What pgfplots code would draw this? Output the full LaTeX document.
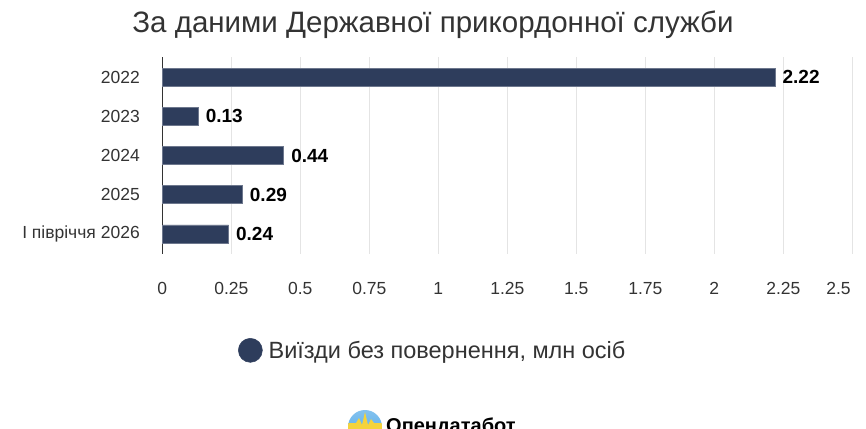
\documentclass[border=0pt]{standalone}
\usepackage{fontspec}
\setmainfont{Liberation Sans}
\usepackage{pgfplots}
\pgfplotsset{compat=1.18}
\definecolor{barcol}{HTML}{2E3D5C}
\definecolor{txt}{HTML}{333333}
\definecolor{gridc}{HTML}{E4E4E4}
\definecolor{logob}{HTML}{4FA8E8}
\definecolor{logoy}{HTML}{F5D33A}
\begin{document}
\begin{tikzpicture}[x=1pt,y=1pt]
\useasboundingbox (0,0) rectangle (866,428);
\node[anchor=base, font=\fontsize{29.5}{34}\selectfont, text=txt, inner sep=0pt] at (433,395) {За даними Державної прикордонної служби};
\begin{axis}[at={(162.3pt,174.5pt)}, anchor=south west, scale only axis,
  width=690pt, height=196pt,
  xbar, bar width=18pt,
  xmin=0, xmax=2.5, ymin=-0.5, ymax=4.5, y dir=reverse,
  ytick={0,1,2,3,4},
  yticklabels={2022,2023,2024,2025,I півріччя 2026},
  xtick={0,0.25,0.5,0.75,1,1.25,1.5,1.75,2,2.25,2.5},
  xticklabels={0,0.25,0.5,0.75,1,1.25,1.5,1.75,2,2.25,{\makebox[52pt][l]{2.5}}},
  xmajorgrids, grid style={draw=gridc, line width=0.9pt},
  axis y line*=left, axis x line*=bottom,
  x axis line style={draw=none, -}, y axis line style={draw=txt, line width=0.9pt, -},
  major tick length=0pt,
  tick label style={font=\fontsize{17.5}{20}\selectfont, text=txt},
  xticklabel style={anchor=base, yshift=-41pt},
  yticklabel style={xshift=-19pt},
  clip=false,
  nodes near coords={\pgfplotspointmeta},
  nodes near coords align={horizontal},
  point meta=explicit symbolic,
  every node near coord/.append style={font=\bfseries\fontsize{19}{22}\selectfont, text=black, anchor=west, xshift=4pt},
  legend style={at={(0.392,-0.494)}, anchor=center, draw=none, fill=none,
    font=\fontsize{23.5}{27}\selectfont, text=txt, inner sep=0pt},
]
\addplot[fill=barcol, draw=barcol!70!white, line width=0.5pt,
  legend image code/.code={\fill[barcol] (0pt,0pt) circle (12pt);}]
  coordinates {(2.22,0) [2.22] (0.13,1) [0.13] (0.44,2) [0.44] (0.29,3) [0.29] (0.24,4) [0.24]};
\addlegendentry{\hspace{4pt}Виїзди без повернення, млн осіб}
\end{axis}
\begin{scope}
\clip (365,1) circle (17);
\shade[top color=logob!70!white, bottom color=logob] (348,-16) rectangle (382,18);
\fill[logoy] (348,-16) -- (348,5) -- (356,5) -- (359,10) -- (362,3) -- (365,16) -- (368,3) -- (371,9) -- (374,5) -- (382,5) -- (382,-16) -- cycle;
\end{scope}
\node[anchor=base west, font=\bfseries\fontsize{20}{22}\selectfont, text=black, inner sep=0pt] at (386,-4) {Опендатабот};
\end{tikzpicture}
\end{document}
